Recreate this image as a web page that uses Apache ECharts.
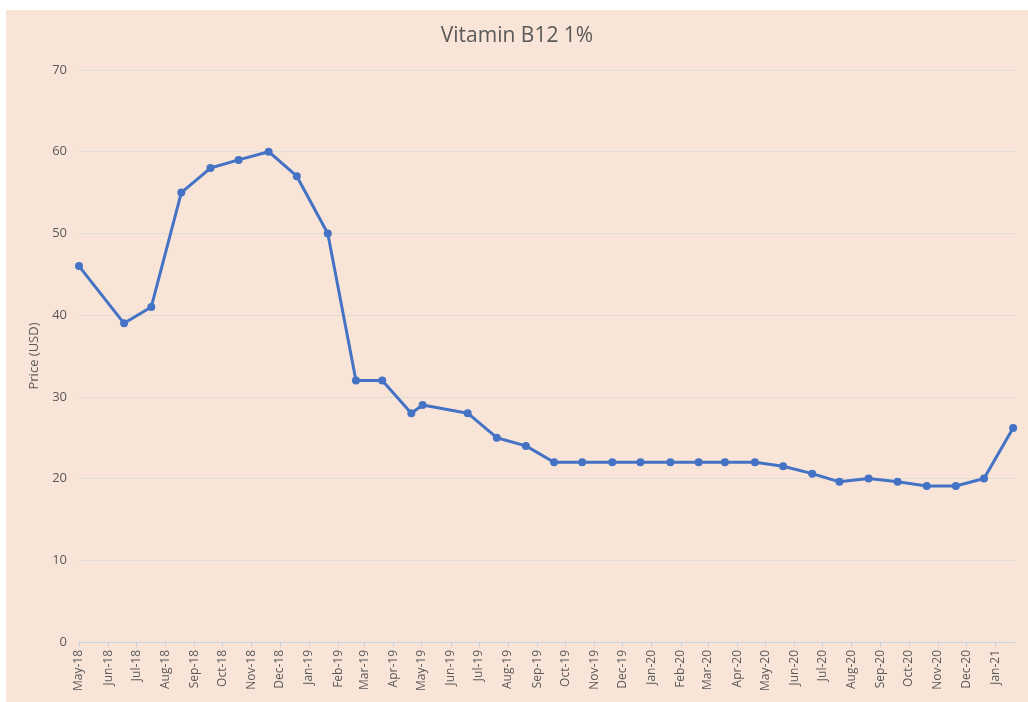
<!DOCTYPE html>
<html>
<head>
<meta charset="utf-8">
<title>Vitamin B12 1%</title>
<script src="https://cdn.jsdelivr.net/npm/echarts@6/dist/echarts.min.js"></script>
<style>
  html, body { margin: 0; padding: 0; background: #ffffff; }
  #chart { position: absolute; left: 6px; top: 10px; width: 1022px; height: 692px; background: #f9e5d8; }
</style>
</head>
<body>
<div id="chart"></div>
<script>
const dates = [
  '2018-05-01', '2018-06-18', '2018-07-17', '2018-08-18', '2018-09-18', '2018-10-18',
  '2018-11-19', '2018-12-19', '2019-01-21', '2019-02-20', '2019-03-20', '2019-04-20',
  '2019-05-02', '2019-06-19', '2019-07-20', '2019-08-20', '2019-09-19', '2019-10-19',
  '2019-11-20', '2019-12-20', '2020-01-21', '2020-02-20', '2020-03-19', '2020-04-20',
  '2020-05-20', '2020-06-20', '2020-07-19', '2020-08-19', '2020-09-19', '2020-10-20',
  '2020-11-20', '2020-12-20', '2021-01-20'
]
const prices = [
  46, 39, 41, 55, 58, 59,
  60, 57, 50, 32, 32, 28,
  29, 28, 25, 24, 22, 22,
  22, 22, 22, 22, 22, 22,
  21.5, 20.6, 19.6, 20, 19.6, 19.1,
  19.1, 20, 26.2
]
const monthNames = ['Jan', 'Feb', 'Mar', 'Apr', 'May', 'Jun', 'Jul', 'Aug', 'Sep', 'Oct', 'Nov', 'Dec']

const textColor = '#595959'
const font = '"Open Sans", sans-serif'
const DAY = 86400000

const chart = echarts.init(document.getElementById('chart'))
chart.setOption({
  animation: false,
  textStyle: { fontFamily: font },
  title: {
    text: 'Vitamin B12 1%',
    left: 'center',
    top: 11,
    textStyle: { color: textColor, fontSize: 21, fontWeight: 'normal', fontFamily: font }
  },
  grid: { left: 73, right: 13, top: 60, bottom: 60 },
  xAxis: {
    type: 'time',
    min: +new Date('2018-05-01T00:00:00Z'),
    max: +new Date('2021-01-22T00:00:00Z'),
    minInterval: 28 * DAY,
    maxInterval: 31 * DAY,
    axisLine: { lineStyle: { color: '#c9d3de', width: 1 } },
    axisTick: { show: true, length: 5, lineStyle: { color: '#c9d3de' } },
    splitLine: { show: false },
    axisLabel: {
      rotate: 90,
      color: textColor,
      fontSize: 12,
      fontFamily: font,
      margin: 8,
      hideOverlap: false,
      formatter: function (val) {
        const d = new Date(val)
        return monthNames[d.getUTCMonth()] + '-' + String(d.getUTCFullYear()).slice(2)
      }
    }
  },
  yAxis: {
    type: 'value',
    min: 0,
    max: 70,
    interval: 10,
    name: 'Price (USD)',
    nameLocation: 'middle',
    nameGap: 37,
    nameTextStyle: { color: textColor, fontSize: 13, fontFamily: font },
    axisLine: { show: false },
    axisTick: { show: false },
    axisLabel: { color: textColor, fontSize: 13, fontFamily: font, margin: 12 },
    splitLine: { lineStyle: { color: '#e2dcd8', width: 1 } }
  },
  series: [{
    type: 'line',
    data: dates.map((d, i) => [+new Date(d + 'T00:00:00Z'), prices[i]]),
    symbol: 'circle',
    symbolSize: 8,
    lineStyle: { color: '#4472c4', width: 3 },
    itemStyle: { color: '#4472c4' }
  }]
})
</script>
</body>
</html>
